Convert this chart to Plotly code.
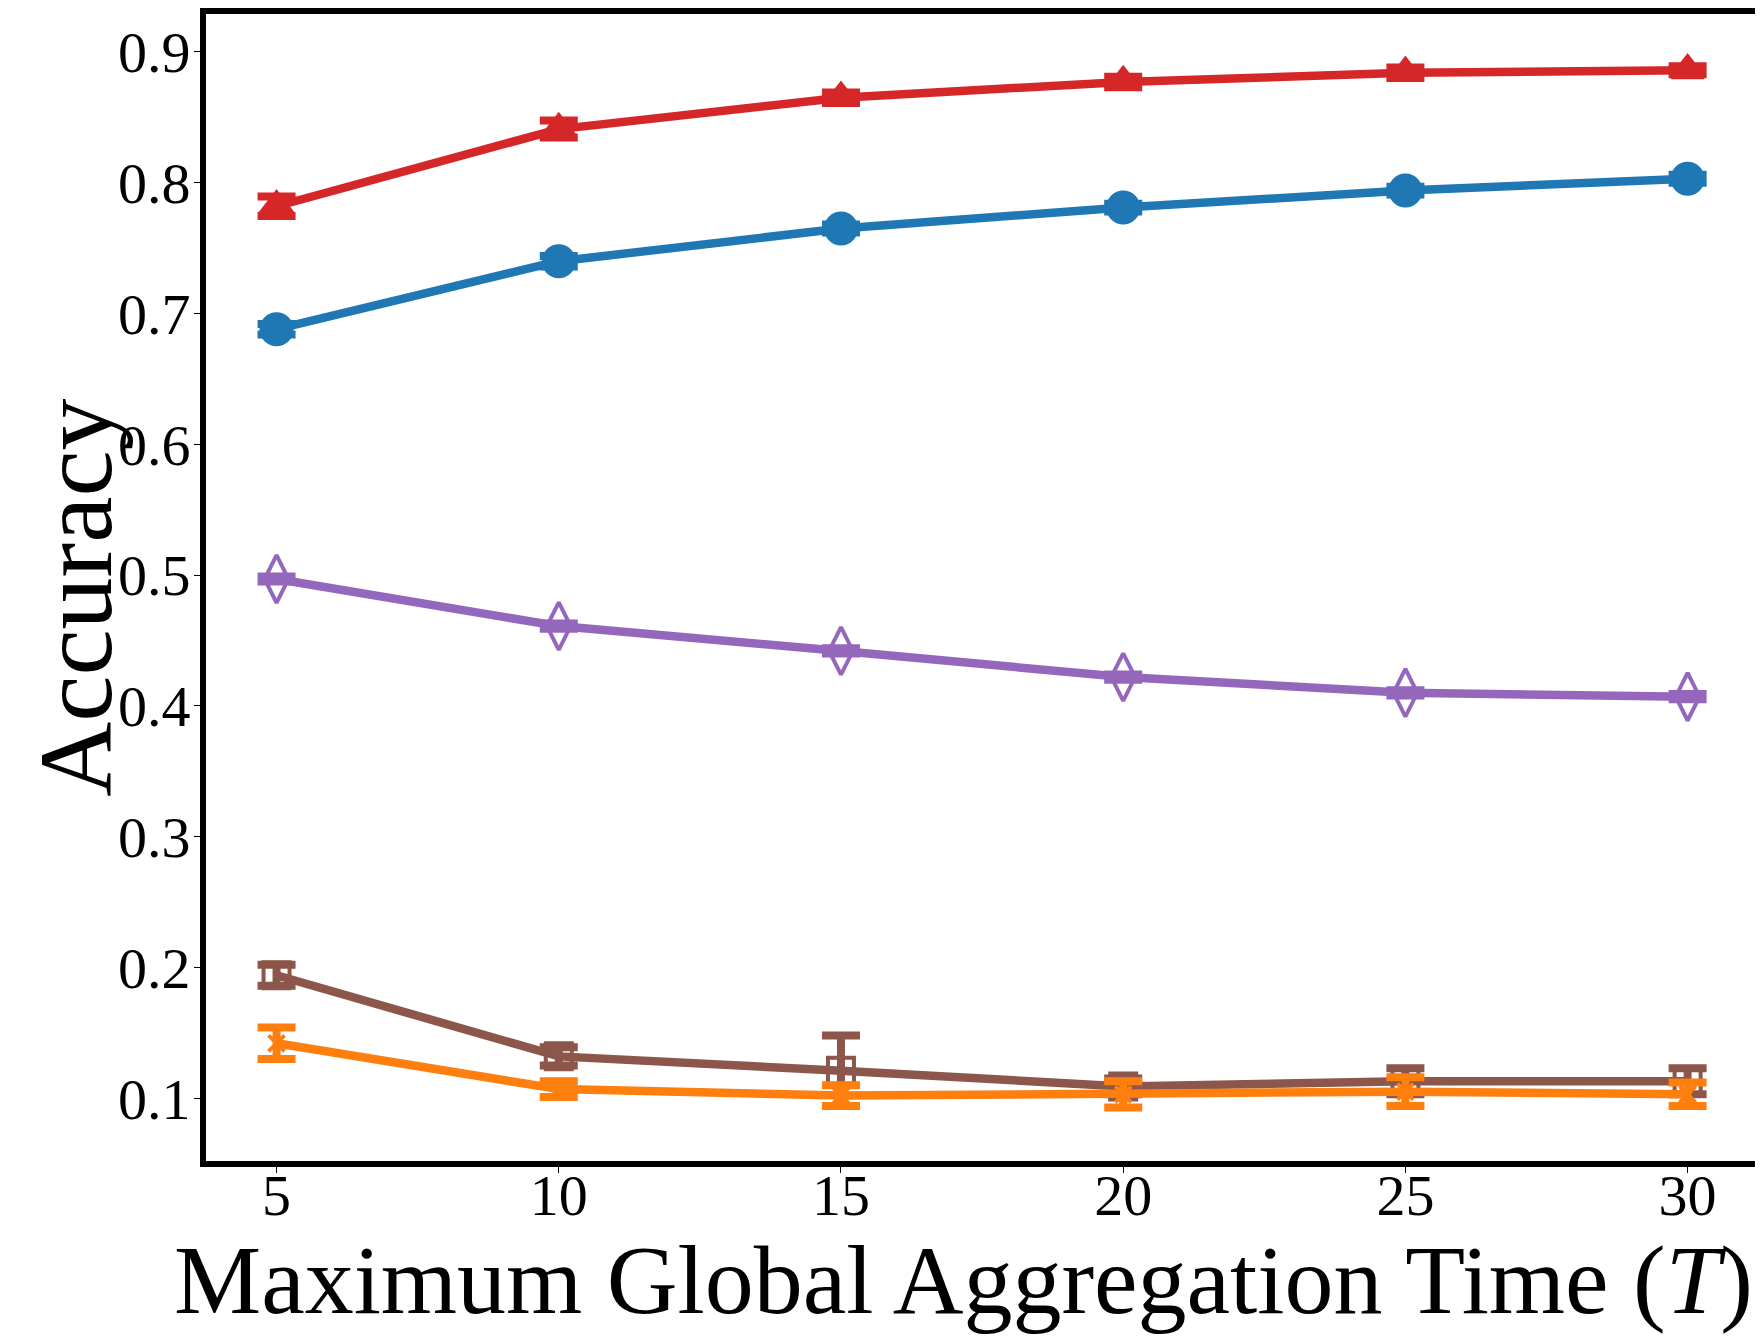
import plotly.graph_objects as go

T_values = [5, 10, 15, 20, 25, 30]

acc_red = [0.782, 0.841, 0.865, 0.877, 0.884, 0.886]
err_red = [0.0075, 0.0065, 0.004, 0.004, 0.004, 0.003]

acc_blue = [0.688, 0.740, 0.765, 0.781, 0.794, 0.803]
err_blue = [0.004, 0.004, 0.003, 0.003, 0.003, 0.003]

acc_purple = [0.497, 0.461, 0.442, 0.422, 0.410, 0.407]
err_purple = [0.002, 0.002, 0.002, 0.002, 0.002, 0.002]

acc_brown = [0.194, 0.132, 0.121, 0.109, 0.113, 0.113]
err_brown = [0.008, 0.007, 0.027, 0.006, 0.010, 0.010]

acc_orange = [0.142, 0.107, 0.102, 0.103, 0.105, 0.103]
err_orange = [0.012, 0.006, 0.008, 0.010, 0.011, 0.009]

x_ticks = [5, 10, 15, 20, 25, 30]
y_ticks = [0.1, 0.2, 0.3, 0.4, 0.5, 0.6, 0.7, 0.8, 0.9]

FONT = "Liberation Serif"

series = [
    (acc_red, err_red, "#d62728", "triangle-up", 28),
    (acc_blue, err_blue, "#1f77b4", "circle", 30),
    (acc_purple, err_purple, "#9467bd", "diamond-tall-open", 34),
    (acc_brown, err_brown, "#8c564b", "square-open", 26),
    (acc_orange, err_orange, "#ff7f0e", "x-thin-open", 16),
]

fig = go.Figure()
for acc, err, color, symbol, size in series:
    fig.add_trace(go.Scatter(
        x=T_values, y=acc,
        mode="lines+markers",
        line=dict(color=color, width=8.5),
        marker=dict(symbol=symbol, size=size, color=color,
                    line=dict(color=color, width=4)),
        error_y=dict(type="data", array=err, visible=True,
                     color=color, thickness=8, width=19),
        showlegend=False,
    ))

fig.update_layout(
    width=1763, height=1343,
    plot_bgcolor="white", paper_bgcolor="white",
    margin=dict(l=198, r=10, t=0, b=190),
    font=dict(family=FONT, color="black"),
)
fig.update_xaxes(
    range=[3.75, 31.3],
    tickvals=x_ticks,
    tickfont=dict(size=58, family=FONT),
    ticklabelstandoff=-28,
    showgrid=False, zeroline=False,
    showline=True, linecolor="black", linewidth=6, mirror=True,
    ticks="outside", ticklen=6, tickwidth=1, tickcolor="black",
)
fig.update_yaxes(
    range=[0.052, 0.929],
    tickvals=y_ticks,
    ticktext=[f"{v:.1f}" for v in y_ticks],
    tickfont=dict(size=58, family=FONT),
    ticklabelstandoff=-8,
    showgrid=False, zeroline=False,
    showline=True, linecolor="black", linewidth=6, mirror=True,
    ticks="outside", ticklen=6, tickwidth=1, tickcolor="black",
)

# axis titles as annotations so they can sit where the original has them
fig.add_annotation(
    text="Maximum Global Aggregation Time (<i>T</i>)",
    xref="paper", yref="paper", x=0.487, y=0,
    xanchor="center", yanchor="top", yshift=-63,
    showarrow=False, font=dict(size=98, family=FONT, color="black"),
)
fig.add_annotation(
    text="Accuracy", textangle=-90,
    xref="paper", yref="paper", x=-0.0836, y=0.491,
    xanchor="center", yanchor="middle",
    showarrow=False, font=dict(size=104, family=FONT, color="black"),
)

fig.write_html("out.html")
